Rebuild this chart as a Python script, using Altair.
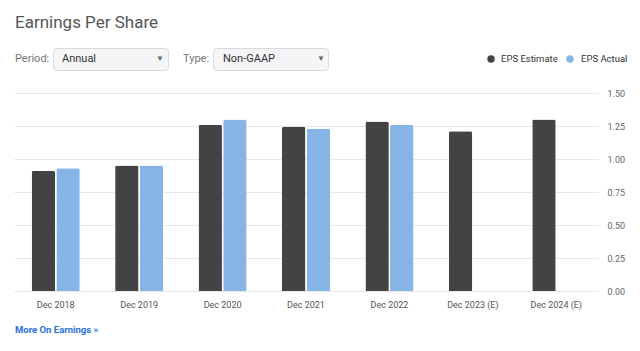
import altair as alt
import pandas as pd

categories = ["Dec 2018", "Dec 2019", "Dec 2020", "Dec 2021", "Dec 2022", "Dec 2023 (E)", "Dec 2024 (E)"]
eps_estimate = [0.91, 0.95, 1.26, 1.245, 1.285, 1.21, 1.30]
eps_actual = [0.93, 0.95, 1.30, 1.23, 1.26, None, None]
series_names = ["EPS Estimate", "EPS Actual"]
series_colors = ["#434245", "#86b4e7"]
y_ticks = [0, 0.25, 0.5, 0.75, 1.0, 1.25, 1.5]

rows = []
for c, e, a in zip(categories, eps_estimate, eps_actual):
    rows.append({"period": c, "series": "EPS Estimate", "value": e})
    if a is not None:
        rows.append({"period": c, "series": "EPS Actual", "value": a})
df = pd.DataFrame(rows)

FONT = "Roboto"
W, H = 584, 198

bars = alt.Chart(df).mark_bar(cornerRadiusTopLeft=2, cornerRadiusTopRight=2).encode(
    x=alt.X("period:N", sort=categories,
            scale=alt.Scale(domain=categories, paddingInner=0.424, paddingOuter=0.212),
            axis=alt.Axis(title=None, labelAngle=0, domain=False, ticks=False,
                          labelPadding=9, labelFontSize=9, labelColor="#555",
                          labelFont=FONT)),
    xOffset=alt.XOffset("series:N", scale=alt.Scale(domain=series_names, paddingInner=0.05, paddingOuter=0)),
    y=alt.Y("value:Q", scale=alt.Scale(domain=[0, 1.5], nice=False),
            axis=alt.Axis(orient="right", title=None, values=y_ticks, format=".2f",
                          domain=False, ticks=False, labelPadding=9, labelFontSize=9,
                          labelColor="#666", labelFont=FONT, gridColor="#e8e8e8",
                          gridWidth=1.2)),
    color=alt.Color("series:N", scale=alt.Scale(domain=series_names, range=series_colors), legend=None),
)

one = alt.Data(values=[{}])

def txt(s, x, y, size=11, color="#777", weight="normal", align="left"):
    return alt.Chart(one).mark_text(text=s, align=align, baseline="middle", fontSize=size,
                                    color=color, font=FONT, fontWeight=weight).encode(
        x=alt.value(x), y=alt.value(y))

def box(x1, x2):
    return alt.Chart(one).mark_rect(fill="#f4f5f7", stroke="#d9dadc", strokeWidth=1,
                                    cornerRadius=3).encode(
        x=alt.value(x1), x2=alt.value(x2), y=alt.value(-44.5), y2=alt.value(-22.5))

def dot(x, color):
    return alt.Chart(one).mark_point(filled=True, size=55, color=color, opacity=1).encode(
        x=alt.value(x), y=alt.value(-34))

layers = [
    bars,
    txt("Earnings Per Share", 1, -70, size=17, color="#555"),
    txt("Period:", 1, -34, size=11, color="#777"),
    box(39.5, 154.5),
    txt("Annual", 48, -34, size=11, color="#333"),
    txt("▼", 146, -34, size=8, color="#666", align="center"),
    txt("Type:", 169, -34, size=11, color="#777"),
    box(199.5, 314.5),
    txt("Non-GAAP", 209, -34, size=11, color="#333"),
    txt("▼", 307, -34, size=8, color="#666", align="center"),
    dot(477, series_colors[0]),
    txt("EPS Estimate", 487, -34, size=9.5, color="#333"),
    dot(556, series_colors[1]),
    txt("EPS Actual", 567, -34, size=9.5, color="#333"),
    txt("More On Earnings »", 1, 237, size=9.5, color="#2a6fdb", weight="bold"),
]

chart = alt.layer(*layers).properties(
    width=W, height=H,
    autosize=alt.AutoSizeParams(type="none"),
    padding={"left": 14, "top": 93, "right": 42, "bottom": 60},
    background="white",
).configure_view(stroke=None)

chart.save("out.html", embed_options={"renderer": "svg", "actions": False})
